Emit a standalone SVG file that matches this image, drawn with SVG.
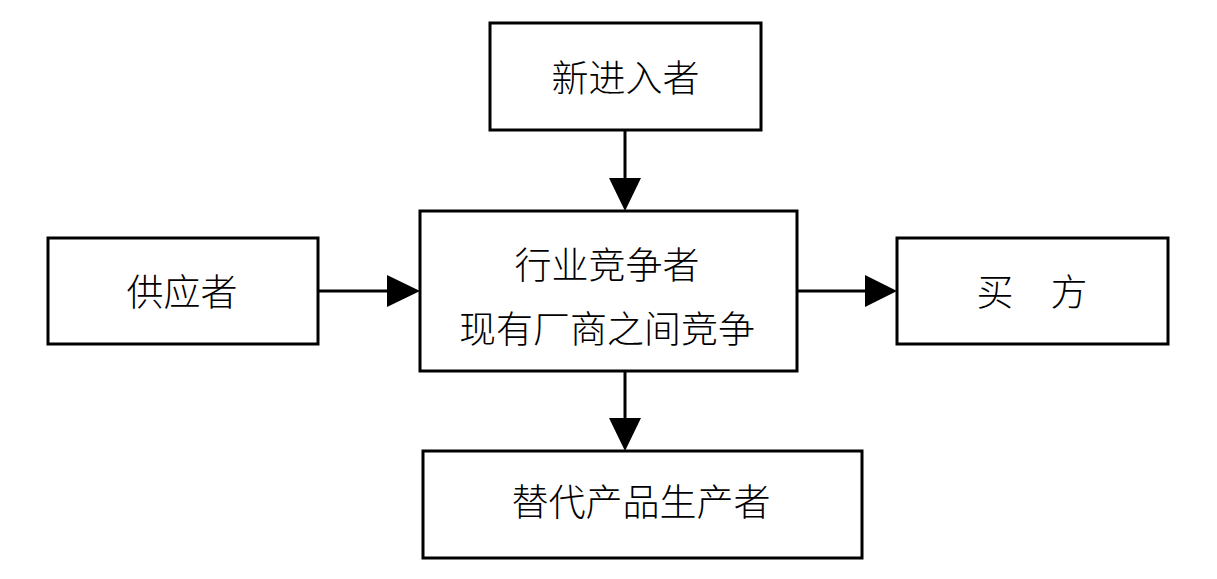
<svg xmlns="http://www.w3.org/2000/svg" width="1217" height="579" viewBox="0 0 1217 579">
<style>
.box{fill:#fff;stroke:#000;stroke-width:3}
.lbl{font-family:"Noto Sans CJK SC","Noto Sans",sans-serif;font-size:37px;font-weight:300;fill:#000;text-anchor:middle;dominant-baseline:central}
.conn{stroke:#000;stroke-width:3;fill:none}
.head{fill:#000}
</style>
<rect width="1217" height="579" fill="#fff"/>
<g id="connectors">
<line class="conn" x1="625" y1="130" x2="625" y2="180"/>
<polygon class="head" points="609,178 641,178 625,211"/>
<line class="conn" x1="318" y1="291" x2="390" y2="291"/>
<polygon class="head" points="387,275 387,307 420,291"/>
<line class="conn" x1="797" y1="291" x2="868" y2="291"/>
<polygon class="head" points="865,275 865,307 897,291"/>
<line class="conn" x1="625" y1="371" x2="625" y2="420"/>
<polygon class="head" points="609,418 641,418 625,451"/>
</g>
<g id="new-entrants">
<rect class="box" x="490" y="23" width="271" height="107"/>
<text class="lbl" x="625.5" y="76">新进入者</text>
</g>
<g id="suppliers">
<rect class="box" x="48" y="238" width="270" height="106"/>
<text class="lbl" x="182" y="290">供应者</text>
</g>
<g id="industry-competitors">
<rect class="box" x="420" y="211" width="377" height="160"/>
<text class="lbl" x="607" y="263">行业竞争者</text>
<text class="lbl" x="607" y="327">现有厂商之间竞争</text>
</g>
<g id="buyers">
<rect class="box" x="897" y="238" width="271" height="106"/>
<text class="lbl" x="1032" y="290">买　方</text>
</g>
<g id="substitutes">
<rect class="box" x="423" y="451" width="439" height="107"/>
<text class="lbl" x="641" y="500">替代产品生产者</text>
</g>
</svg>
